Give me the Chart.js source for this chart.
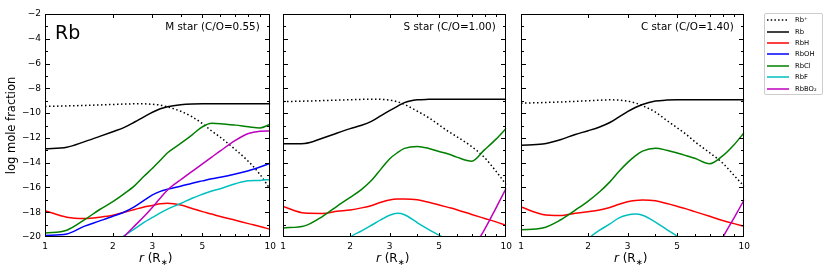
<!DOCTYPE html>
<html>
<head>
<meta charset="utf-8">
<script src="https://cdn.jsdelivr.net/npm/chart.js@4.4.1/dist/chart.umd.min.js"></script>
<style>
  body { margin: 0; background: #fff; width: 830px; height: 270px; position: relative; overflow: hidden; font-family: "DejaVu Sans", sans-serif; }
  canvas { position: absolute; top: 0; }
  #legend { position: absolute; left: 764px; top: 13px; width: 59px; height: 82px; border: 1px solid #cccccc; border-radius: 2px; box-sizing: border-box; padding-top: 0.5px; }
  #legend .row { height: 11.4px; display: flex; align-items: center; padding-left: 2px; font-size: 6.8px; color: #000; white-space: nowrap; }
  #legend svg { margin-right: 6px; }
</style>
</head>
<body>
<canvas id="m" width="280" height="270" style="left:0px"></canvas>
<canvas id="s" width="240" height="270" style="left:276px"></canvas>
<canvas id="c" width="240" height="270" style="left:514px"></canvas>
<div id="legend"></div>
<script>
Chart.defaults.font.family = "'DejaVu Sans', sans-serif";
Chart.defaults.color = '#000';

// radius grid (stellar radii)
var radius = [1, 1.25, 1.5, 1.75, 2, 2.25, 2.5, 2.75, 3, 3.25, 3.5, 4, 4.5, 5, 5.5, 6, 7, 8, 9, 10];
var xLabelTicks = [1, 2, 3, 5, 10];
var xMinorTicks = [2, 3, 4, 5, 6, 7, 8, 9];
var yMin = -20, yMax = -2;

var species = ['Rb⁺', 'Rb', 'RbH', 'RbOH', 'RbCl', 'RbF', 'RbBO₂'];
var colors = ['#000000', '#000000', '#ff0000', '#0000ff', '#008000', '#00bfbf', '#bf00bf'];
var stars = ['M star (C/O=0.55)', 'S star (C/O=1.00)', 'C star (C/O=1.40)'];

// M star
var mRbIon = [-9.46, -9.42, -9.38, -9.34, -9.3, -9.27, -9.25, -9.25, -9.29, -9.35, -9.5, -9.85, -10.3, -10.85, -11.45, -11.95, -12.95, -13.9, -14.95, -16.15];
var mRb    = [-12.88, -12.75, -12.3, -11.88, -11.5, -11.15, -10.72, -10.3, -9.93, -9.65, -9.48, -9.32, -9.26, -9.25, -9.25, -9.25, -9.25, -9.25, -9.25, -9.25];
var mRbH   = [-17.88, -18.4, -18.5, -18.4, -18.25, -18.0, -17.78, -17.58, -17.45, -17.32, -17.28, -17.42, -17.7, -17.95, -18.15, -18.35, -18.65, -18.92, -19.15, -19.38];
var mRbOH  = [-19.87, -19.75, -19.12, -18.7, -18.33, -17.98, -17.55, -17.05, -16.6, -16.32, -16.15, -15.9, -15.66, -15.47, -15.3, -15.18, -14.92, -14.65, -14.35, -14.05];
var mRbCl  = [-19.68, -19.45, -18.6, -17.78, -17.15, -16.5, -15.85, -15.1, -14.45, -13.8, -13.2, -12.45, -11.75, -11.1, -10.82, -10.85, -10.97, -11.1, -11.2, -10.9];
var mRbF   = [null, null, null, null, -20.5, -19.88, -19.35, -18.82, -18.42, -18.05, -17.75, -17.3, -16.87, -16.55, -16.28, -16.1, -15.7, -15.45, -15.43, -15.36];
var mRbBO2 = [null, null, null, null, -21, -19.95, -19.1, -18.35, -17.6, -16.85, -16.2, -15.38, -14.7, -14.1, -13.55, -13.05, -12.2, -11.65, -11.47, -11.44];

// S star
var sRbIon = [-9.07, -9.03, -8.99, -8.95, -8.92, -8.89, -8.88, -8.89, -8.95, -9.08, -9.3, -9.85, -10.38, -10.95, -11.48, -11.9, -12.7, -13.6, -14.7, -15.78];
var sRb    = [-12.48, -12.45, -12.03, -11.6, -11.25, -10.98, -10.65, -10.2, -9.8, -9.45, -9.15, -8.93, -8.89, -8.88, -8.88, -8.88, -8.88, -8.88, -8.88, -8.88];
var sRbH   = [-17.53, -18.07, -18.1, -17.93, -17.82, -17.65, -17.45, -17.2, -17.02, -16.94, -16.93, -17.0, -17.2, -17.41, -17.61, -17.8, -18.18, -18.5, -18.78, -19.06];
var sRbOH  = [];
var sRbCl  = [-19.27, -19.1, -18.35, -17.5, -16.8, -16.15, -15.4, -14.5, -13.7, -13.2, -12.85, -12.69, -12.85, -13.1, -13.3, -13.55, -13.88, -12.95, -12.1, -11.22];
var sRbF   = [null, null, null, -21, -20, -19.5, -19.03, -18.6, -18.25, -18.09, -18.2, -18.85, -19.4, -19.85, -20.3, null, null, null, null, null];
var sRbBO2 = [null, null, null, null, null, null, null, null, null, null, null, null, null, null, null, null, -21.1, -19.38, -17.65, -16.05];

// C star
var cRbIon = [-9.2, -9.15, -9.1, -9.05, -9.0, -8.96, -8.93, -8.95, -9.03, -9.18, -9.4, -9.92, -10.6, -11.18, -11.72, -12.3, -13.2, -14.03, -15.03, -15.92];
var cRb    = [-12.59, -12.5, -12.15, -11.72, -11.42, -11.12, -10.76, -10.3, -9.88, -9.55, -9.3, -9.03, -8.95, -8.93, -8.93, -8.93, -8.93, -8.93, -8.93, -8.93];
var cRbH   = [-17.58, -18.18, -18.27, -18.08, -17.96, -17.82, -17.62, -17.35, -17.15, -17.05, -17.02, -17.08, -17.3, -17.52, -17.73, -17.95, -18.33, -18.67, -18.92, -19.14];
var cRbOH  = [];
var cRbCl  = [-19.41, -19.28, -18.63, -17.83, -17.1, -16.35, -15.55, -14.7, -14.0, -13.45, -13.07, -12.83, -13.0, -13.22, -13.44, -13.65, -14.09, -13.45, -12.55, -11.56];
var cRbF   = [null, null, null, -21, -20.12, -19.45, -18.95, -18.45, -18.22, -18.15, -18.25, -18.8, -19.4, -19.93, -20.5, null, null, null, null, null];
var cRbBO2 = [null, null, null, null, null, null, null, null, null, null, null, null, null, null, null, null, -21.9, -20.05, -18.45, -16.99];

var panels = [
  { id: 'm', label: stars[0], series: [mRbIon, mRb, mRbH, mRbOH, mRbCl, mRbF, mRbBO2], left: 0, right: 7 },
  { id: 's', label: stars[1], series: [sRbIon, sRb, sRbH, sRbOH, sRbCl, sRbF, sRbBO2], left: 7, right: 6 },
  { id: 'c', label: stars[2], series: [cRbIon, cRb, cRbH, cRbOH, cRbCl, cRbF, cRbBO2], left: 7, right: 6 }
];

function minus(v) { return v < 0 ? '\u2212' + Math.abs(v) : String(v); }

// axes box with inward ticks (matplotlib style)
var framePlugin = {
  id: 'frame',
  afterDraw: function (chart, args, opts) {
    var ctx = chart.ctx, a = chart.chartArea, xs = chart.scales.x, ys = chart.scales.y;
    ctx.save();
    ctx.globalAlpha = 1;
    ctx.fillStyle = '#000000';
    var L = Math.round(a.left), R = Math.round(a.right), T = Math.round(a.top), B = Math.round(a.bottom);
    ctx.fillRect(L, T, R - L, 1);
    ctx.fillRect(L, B - 1, R - L, 1);
    ctx.fillRect(L, T, 1, B - T);
    ctx.fillRect(R - 1, T, 1, B - T);
    xMinorTicks.forEach(function (v) {
      var p = Math.round(xs.getPixelForValue(v));
      var len = xLabelTicks.indexOf(v) >= 0 ? 3 : 2;
      ctx.fillRect(p, B - 1 - len, 1, len);
      ctx.fillRect(p, T + 1, 1, len);
    });
    for (var v = yMin + 1; v < yMax; v++) {
      var q = Math.round(ys.getPixelForValue(v));
      var l = v % 2 === 0 ? 4 : 2;
      ctx.fillRect(L + 1, q, l, 1);
      ctx.fillRect(R - 1 - l, q, l, 1);
    }

    // panel label
    ctx.font = "10.4px 'DejaVu Sans'";
    ctx.textAlign = 'right';
    ctx.textBaseline = 'alphabetic';
    ctx.fillText(opts.label, a.right - 10.5, 30);

    if (opts.first) {
      ctx.textAlign = 'left';
      ctx.font = "19px 'DejaVu Sans'";
      ctx.fillText('Rb', 55, 39);
      ctx.save();
      ctx.translate(15, (a.top + a.bottom) / 2);
      ctx.rotate(-Math.PI / 2);
      ctx.textAlign = 'center';
      ctx.font = "11.5px 'DejaVu Sans'";
      ctx.fillText('log mole fraction', 0, 0);
      ctx.restore();
    }

    // x title: r (R*)
    var fs = 12;
    var parts = [
      { t: 'r', f: 'italic ' + fs + "px 'DejaVu Sans'", dy: 0 },
      { t: ' (R', f: fs + "px 'DejaVu Sans'", dy: 0 },
      { t: '\u2217', f: (fs * 0.7) + "px 'DejaVu Sans'", dy: 2.5 },
      { t: ')', f: fs + "px 'DejaVu Sans'", dy: 0 }
    ];
    var w = 0;
    parts.forEach(function (p) { ctx.font = p.f; p.w = ctx.measureText(p.t).width; w += p.w; });
    var x = (a.left + a.right) / 2 - 2 - w / 2;
    ctx.textAlign = 'left';
    parts.forEach(function (p) { ctx.font = p.f; ctx.fillText(p.t, x, 262 + p.dy); x += p.w; });
    ctx.restore();
  }
};

panels.forEach(function (panel, pi) {
  var datasets = species.map(function (name, i) {
    var vals = panel.series[i];
    return {
      label: name,
      data: radius.map(function (r, k) { return { x: r, y: vals[k] === undefined ? null : vals[k] }; }),
      borderColor: colors[i],
      borderWidth: 1.5,
      borderDash: i === 0 ? [1.5, 2.5] : [],
      pointRadius: 0,
      cubicInterpolationMode: 'monotone',
      fill: false,
      order: -i
    };
  });
  var yScale = {
    display: pi === 0,
    min: yMin, max: yMax,
    grid: { display: false, drawTicks: false },
    border: { display: false },
    ticks: { stepSize: 2, padding: 4, font: { size: 9 }, callback: function (v) { return minus(v); } }
  };
  if (pi === 0) yScale.afterFit = function (s) { s.width = 45; };
  new Chart(document.getElementById(panel.id), {
    type: 'line',
    data: { datasets: datasets },
    options: {
      responsive: false,
      devicePixelRatio: 1,
      animation: false,
      layout: { padding: { top: 14, bottom: 0, left: panel.left, right: panel.right } },
      scales: {
        x: {
          type: 'logarithmic',
          min: 1, max: 10,
          grid: { display: false, drawTicks: false },
          border: { display: false },
          afterBuildTicks: function (s) { s.ticks = xLabelTicks.map(function (v) { return { value: v }; }); },
          afterFit: function (s) { s.height = 33; },
          ticks: { autoSkip: false, maxRotation: 0, padding: 4, font: { size: 9 }, callback: function (v) { return String(v); } }
        },
        y: yScale
      },
      plugins: {
        legend: { display: false },
        tooltip: { enabled: false },
        frame: { label: panel.label, first: pi === 0 }
      }
    },
    plugins: [framePlugin]
  });
});

// legend
var legend = document.getElementById('legend');
species.forEach(function (name, i) {
  var row = document.createElement('div');
  row.className = 'row';
  row.innerHTML = '<svg width="22" height="4"><line x1="0" y1="2" x2="22" y2="2" stroke="' + colors[i] +
    '" stroke-width="1.5"' + (i === 0 ? ' stroke-dasharray="1.5 2.2"' : '') + '/></svg><span>' + name + '</span>';
  legend.appendChild(row);
});
</script>
</body>
</html>
